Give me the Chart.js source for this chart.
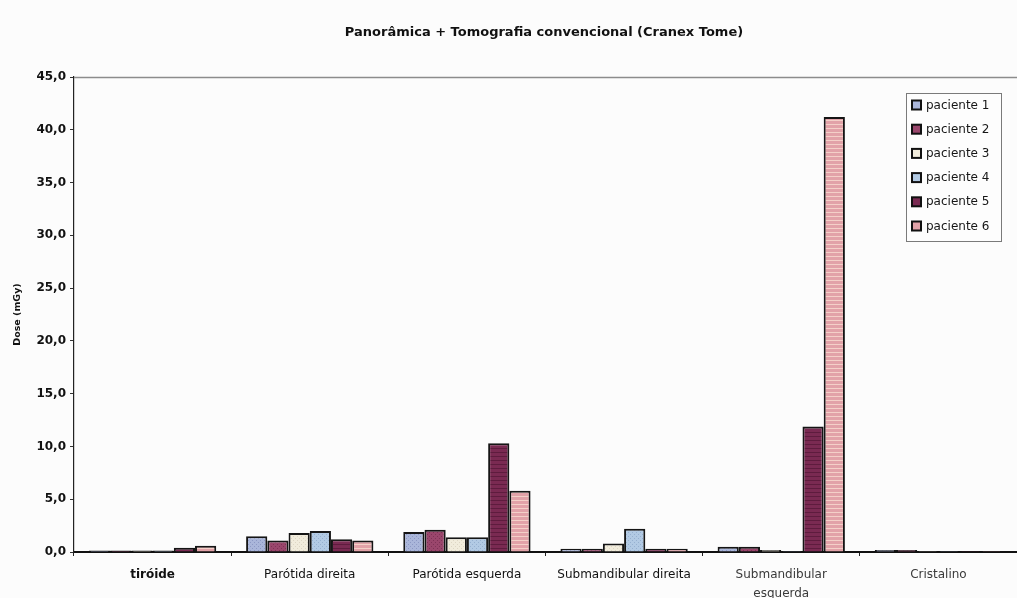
<!DOCTYPE html>
<html>
<head>
<meta charset="utf-8">
<script src="https://cdn.jsdelivr.net/npm/chart.js@4/dist/chart.umd.min.js"></script>
<style>
  html, body { margin: 0; padding: 0; background: #fcfcfc; }
  #wrap { width: 1017px; height: 598px; }
</style>
</head>
<body>
<div id="wrap"><canvas id="c" width="1017" height="598"></canvas></div>
<script>
// Chart heading
const chartTitle = 'Panorâmica + Tomografia convencional (Cranex Tome)';

// Organ sites (x categories)
const categories = ['tiróide', 'Parótida direita', 'Parótida esquerda', 'Submandibular direita', ['Submandibular', 'esquerda'], 'Cristalino'];

// Patient labels
const seriesNames = ['paciente 1', 'paciente 2', 'paciente 3', 'paciente 4', 'paciente 5', 'paciente 6'];

// Absorbed dose per site (mGy)
const paciente1 = [0.15, 1.5, 1.9, 0.3, 0.5, 0.2];
const paciente2 = [0.15, 1.1, 2.1, 0.3, 0.5, 0.2];
const paciente3 = [0.15, 1.8, 1.4, 0.8, 0.2, 0.1];
const paciente4 = [0.15, 2.0, 1.4, 2.2, 0.1, 0.1];
const paciente5 = [0.4, 1.2, 10.3, 0.3, 11.9, 0.1];
const paciente6 = [0.6, 1.1, 5.8, 0.3, 41.2, 0.1];

// Dose axis range and step
const yMin = 0;
const yMax = 45;
const yStep = 5;

const seriesValues = [paciente1, paciente2, paciente3, paciente4, paciente5, paciente6];

const FONT = '"DejaVu Sans", "Liberation Sans", Arial, sans-serif';

// Small fill patterns that give each patient a textured bar
function makePattern(base, ink, kind) {
  const p = document.createElement('canvas');
  p.width = 4; p.height = 4;
  const g = p.getContext('2d');
  g.fillStyle = base;
  g.fillRect(0, 0, 4, 4);
  g.fillStyle = ink;
  if (kind === 'dots') {
    g.fillRect(0, 0, 1, 1);
    g.fillRect(2, 2, 1, 1);
  } else if (kind === 'stripes') {
    g.fillRect(0, 0, 4, 1);
  } else if (kind === 'grain') {
    g.fillRect(1, 0, 1, 1);
    g.fillRect(3, 2, 1, 1);
  }
  return g.createPattern(p, 'repeat');
}

const fills = [
  makePattern('#aab6da', '#8c98c4', 'dots'),
  makePattern('#9a466c', '#7e3256', 'grain'),
  makePattern('#f1ecdc', '#ddd6c4', 'grain'),
  makePattern('#b2cae4', '#96b0d0', 'dots'),
  makePattern('#7a2a52', '#5e1c3e', 'stripes'),
  makePattern('#e2a2a8', '#f4d0c8', 'stripes')
];
const swatchColors = ['#aab6da', '#9a466c', '#f1ecdc', '#b2cae4', '#7a2a52', '#e2a2a8'];

// Heading drawn above the plot, a little right of the canvas centre
const heading = {
  id: 'heading',
  afterDraw(chart) {
    const { ctx } = chart;
    ctx.save();
    ctx.font = 'bold 13px ' + FONT;
    ctx.fillStyle = '#111';
    ctx.textAlign = 'center';
    ctx.textBaseline = 'middle';
    ctx.fillText(chartTitle, 544, 33);
    ctx.restore();
  }
};

// Top frame line of the plot area
const frameLine = {
  id: 'frameLine',
  beforeDatasetsDraw(chart) {
    const { ctx, chartArea } = chart;
    ctx.save();
    ctx.strokeStyle = '#8c8c8c';
    ctx.lineWidth = 1.5;
    ctx.beginPath();
    ctx.moveTo(chartArea.left, chartArea.top + 0.5);
    ctx.lineTo(chart.width, chartArea.top + 0.5);
    ctx.stroke();
    ctx.restore();
  }
};

// Boxed legend placed in the upper right of the plot
const insideLegend = {
  id: 'insideLegend',
  afterDraw(chart) {
    const { ctx } = chart;
    const x0 = 906, y0 = 93, w = 95, h = 148;
    ctx.save();
    ctx.fillStyle = '#fdfdfd';
    ctx.fillRect(x0, y0, w, h);
    ctx.strokeStyle = '#7a7a7a';
    ctx.lineWidth = 1;
    ctx.strokeRect(x0 + 0.5, y0 + 0.5, w, h);
    ctx.font = '12px ' + FONT;
    ctx.textBaseline = 'middle';
    ctx.textAlign = 'left';
    chart.data.datasets.forEach((ds, i) => {
      const cy = y0 + 12 + i * 24.2;
      ctx.fillStyle = swatchColors[i];
      ctx.fillRect(x0 + 6, cy - 4.5, 9, 9);
      ctx.strokeStyle = '#111';
      ctx.lineWidth = 2;
      ctx.strokeRect(x0 + 6, cy - 4.5, 9, 9);
      ctx.fillStyle = '#161616';
      ctx.fillText(ds.label, x0 + 20, cy + 0.5);
    });
    ctx.restore();
  }
};

new Chart(document.getElementById('c'), {
  type: 'bar',
  data: {
    labels: categories,
    datasets: seriesNames.map((name, i) => ({
      label: name,
      data: seriesValues[i],
      backgroundColor: fills[i],
      borderColor: '#151515',
      borderWidth: 2,
      borderSkipped: 'bottom',
      categoryPercentage: 0.81,
      barPercentage: 1.0
    }))
  },
  options: {
    responsive: false,
    animation: false,
    devicePixelRatio: 1,
    layout: { padding: { left: 8, right: -11, top: 77, bottom: 0 } },
    plugins: {
      legend: { display: false },
      tooltip: { enabled: false },
      title: { display: false }
    },
    scales: {
      x: {
        afterFit(scale) { scale.height = 46; },
        grid: { drawOnChartArea: false, drawTicks: true, tickLength: 4, color: '#222', offset: true },
        border: { color: '#111', width: 2 },
        ticks: {
          color: (c) => (c.index >= 4 ? '#3a3a3a' : '#111'),
          padding: 9,
          maxRotation: 0,
          autoSkip: false,
          font: (c) => ({
            family: FONT,
            size: 12,
            weight: c.index === 0 ? 'bold' : 'normal',
            lineHeight: 1.58
          })
        }
      },
      y: {
        min: yMin,
        max: yMax,
        afterFit(scale) { scale.width = 66; },
        grid: { drawOnChartArea: false, drawTicks: true, tickLength: 4, color: '#333' },
        border: { color: '#222', width: 1.2 },
        ticks: {
          stepSize: yStep,
          padding: 4,
          color: '#111',
          font: { family: FONT, size: 12, weight: 'bold' },
          callback: (v) => Number(v).toFixed(1).replace('.', ',')
        },
        title: {
          display: true,
          text: 'Dose (mGy)',
          color: '#111',
          font: { family: FONT, size: 9.5, weight: 'bold', lineHeight: 1.2 },
          padding: { top: 4, bottom: 4 }
        }
      }
    }
  },
  plugins: [frameLine, insideLegend, heading]
});
</script>
</body>
</html>
